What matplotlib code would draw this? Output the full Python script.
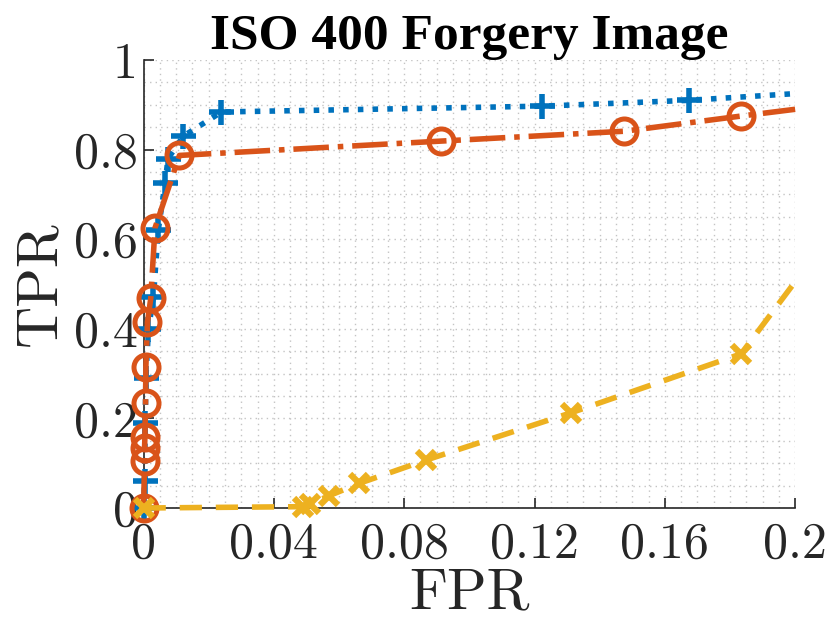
import numpy as np
import matplotlib.pyplot as plt
from matplotlib.ticker import MultipleLocator

# MATLAB default colours
BLUE = '#0072BD'
ORANGE = '#D95319'
YELLOW = '#EDB120'

# ROC points
fpr_a = [0.0, 0.0003, 0.0005, 0.0007, 0.0015, 0.003, 0.0045, 0.0066, 0.0075, 0.0122, 0.0239, 0.1224, 0.1673, 0.2]
tpr_a = [0.0, 0.06, 0.19, 0.29, 0.40, 0.47, 0.62, 0.725, 0.78, 0.83, 0.884, 0.897, 0.91, 0.925]

fpr_b = [0.0, 0.0003, 0.0003, 0.0004, 0.0006, 0.0007, 0.0012, 0.0022, 0.0035, 0.011, 0.0913, 0.1475, 0.1835, 0.2]
tpr_b = [0.0, 0.105, 0.135, 0.158, 0.235, 0.315, 0.415, 0.468, 0.625, 0.787, 0.819, 0.841, 0.875, 0.89]

fpr_c = [0.0, 0.049, 0.051, 0.0568, 0.0662, 0.0867, 0.1312, 0.1834, 0.2]
tpr_c = [0.0, 0.003, 0.008, 0.027, 0.055, 0.107, 0.2125, 0.344, 0.505]

plt.rcParams['font.family'] = ['cmr10', 'DejaVu Serif']
plt.rcParams['axes.formatter.use_mathtext'] = True
plt.rcParams['mathtext.fontset'] = 'cm'

fig = plt.figure(figsize=(8.3, 6.35), dpi=100)
ax = fig.add_axes([0.173, 0.2, 0.785, 0.7055])

lw = 4.0
ax.plot(fpr_a, tpr_a, ':', color=BLUE, lw=lw, marker='+', ms=18, mew=4,
        markevery=list(range(len(fpr_a) - 1)), clip_on=False, zorder=3)
ax.plot(fpr_b, tpr_b, '-.', color=ORANGE, lw=lw, marker='o', ms=18, mew=3.6,
        mfc='none', markevery=list(range(len(fpr_b) - 1)), clip_on=False, zorder=4)
ax.plot(fpr_c, tpr_c, '--', color=YELLOW, lw=lw, marker='x', ms=13, mew=4.5,
        markevery=list(range(len(fpr_c) - 1)), dashes=(4, 2.5), clip_on=False, zorder=5)

ax.set_xlim(0, 0.2)
ax.set_ylim(0, 1)
ax.set_xticks([0, 0.04, 0.08, 0.12, 0.16, 0.2])
ax.set_xticklabels(['0', '0.04', '0.08', '0.12', '0.16', '0.2'])
ax.set_yticks([0, 0.2, 0.4, 0.6, 0.8, 1])
ax.set_yticklabels(['0', '0.2', '0.4', '0.6', '0.8', '1'])
ax.xaxis.set_minor_locator(MultipleLocator(0.005))
ax.yaxis.set_minor_locator(MultipleLocator(0.05))

ax.grid(True, which='both', linestyle=(0, (1, 3)), color='#c4c4c4', lw=1.0)
ax.set_axisbelow(True)
ax.spines['top'].set_visible(False)
ax.spines['right'].set_visible(False)
for s in ['left', 'bottom']:
    ax.spines[s].set_color('#262626')
    ax.spines[s].set_linewidth(1.2)
ax.tick_params(which='major', direction='in', length=7, width=1.2, labelsize=36,
               colors='#262626')
ax.tick_params(axis='x', pad=10)
ax.tick_params(axis='y', pad=4)
ax.tick_params(which='minor', length=0)

ax.set_xlabel('FPR', fontsize=42, color='#262626', labelpad=0)
ax.set_ylabel('TPR', fontsize=42, color='#262626', labelpad=6)
ax.set_title('ISO 400 Forgery Image', fontsize=37, fontweight='bold',
             family='Liberation Serif', pad=8)

fig.savefig('out.png', dpi=100)
